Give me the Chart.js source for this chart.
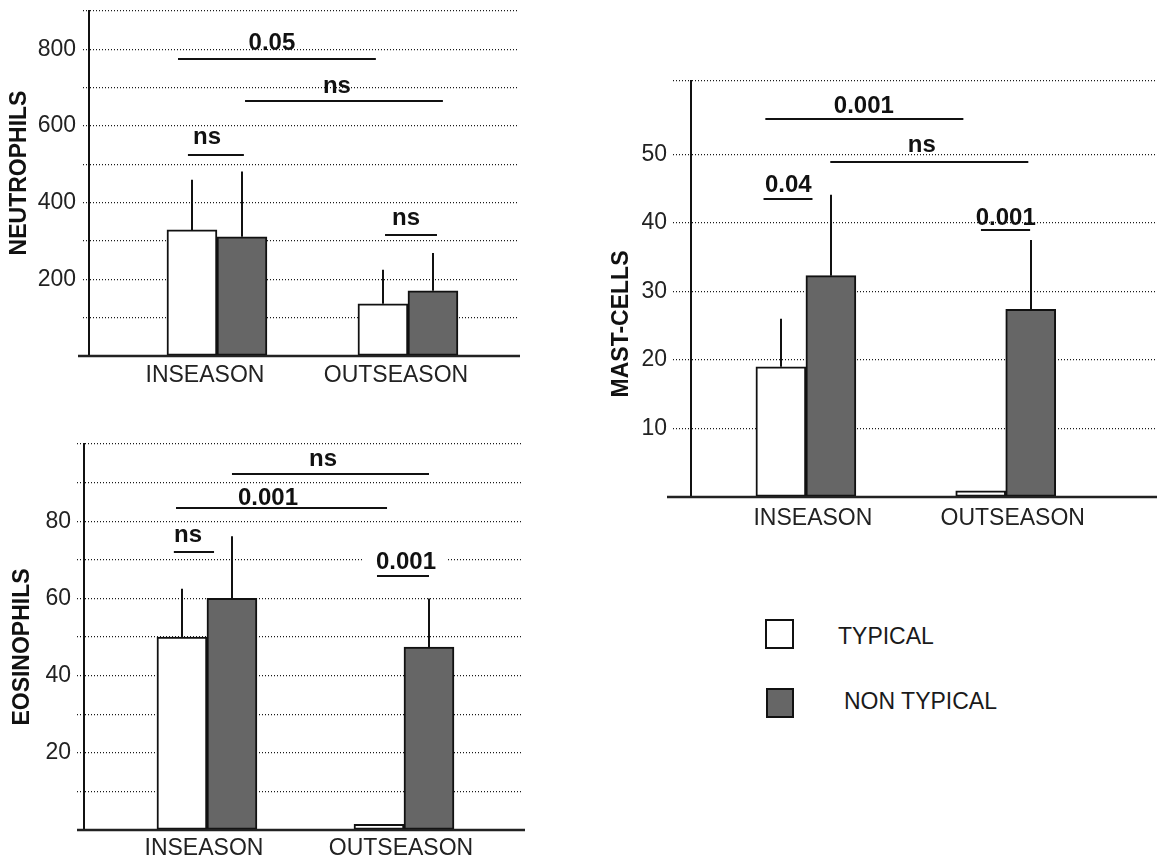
<!DOCTYPE html>
<html>
<head>
<meta charset="utf-8">
<script src="https://cdn.jsdelivr.net/npm/chart.js@4.4.1/dist/chart.umd.min.js"></script>
<style>
html,body{margin:0;padding:0;background:#fff;}
body{width:1157px;height:863px;position:relative;overflow:hidden;font-family:'Liberation Sans',Arial,sans-serif;}
canvas{position:absolute;}
.lg-box{position:absolute;box-sizing:border-box;border:2px solid #111;}
.lg-text{position:absolute;font-size:23px;color:#1a1a1a;line-height:23px;white-space:nowrap;}
</style>
</head>
<body>
<canvas id="neut" width="540" height="400" style="left:0;top:0"></canvas>
<canvas id="eos" width="540" height="433" style="left:0;top:430px"></canvas>
<canvas id="mast" width="582" height="500" style="left:575px;top:40px"></canvas>

<div class="lg-box" style="left:765px;top:619px;width:29px;height:30px;background:#ffffff"></div>
<div class="lg-text" id="lg0" style="left:838px;top:625px"></div>
<div class="lg-box" style="left:766px;top:688px;width:28px;height:30px;background:#666666"></div>
<div class="lg-text" id="lg1" style="left:844px;top:690px"></div>

<script>
// ---------- data ----------
const categories = ['INSEASON', 'OUTSEASON'];
const seriesNames = ['TYPICAL', 'NON TYPICAL'];

// Neutrophils
const neutTypical = [329, 136];
const neutTypicalErr = [131, 89];
const neutNonTypical = [311, 170];
const neutNonTypicalErr = [170, 99];
const neutTickLabels = [200, 400, 600, 800];
const neutSig = [
  {text: '0.05', x1: 0.796, x2: 1.832, y: 774, tx: 1.288, ty: 797},
  {text: 'ns',   x1: 1.147, x2: 2.183, y: 664, tx: 1.628, ty: 685},
  {text: 'ns',   x1: 0.848, x2: 1.141, y: 525, tx: 0.948, ty: 552},
  {text: 'ns',   x1: 1.880, x2: 2.152, y: 316, tx: 1.990, ty: 342}
];

// Eosinophils
const eosTypical = [50, 1.5];
const eosTypicalErr = [12.5, 0];
const eosNonTypical = [60, 47.4];
const eosNonTypicalErr = [16.1, 12.6];
const eosTickLabels = [20, 40, 60, 80];
const eosSig = [
  {text: 'ns',    x1: 1.127, x2: 2.127, y: 92.3, tx: 1.589, ty: 94.4},
  {text: '0.001', x1: 0.843, x2: 1.914, y: 83.5, tx: 1.310, ty: 84.1},
  {text: 'ns',    x1: 0.832, x2: 1.036, y: 72.1, tx: 0.904, ty: 74.6},
  {text: '0.001', x1: 1.863, x2: 2.127, y: 65.9, tx: 2.010, ty: 67.5, bg: true}
];

// Mast cells
const mastTypical = [19, 0.9];
const mastTypicalErr = [7, 0];
const mastNonTypical = [32.3, 27.4];
const mastNonTypicalErr = [11.8, 10.1];
const mastTickLabels = [10, 20, 30, 40, 50];
const mastSig = [
  {text: '0.001', x1: 0.797, x2: 1.788, y: 55.1, tx: 1.290, ty: 56.0},
  {text: 'ns',    x1: 1.122, x2: 2.113, y: 48.9, tx: 1.580, ty: 50.4},
  {text: '0.04',  x1: 0.788, x2: 1.033, y: 43.5, tx: 0.912, ty: 44.5},
  {text: '0.001', x1: 1.876, x2: 2.122, y: 39.0, tx: 2.000, ty: 39.7}
];

// ---------- drawing ----------
const FONT = "'Liberation Sans', Arial, sans-serif";
const INK = '#111111';

document.getElementById('lg0').textContent = seriesNames[0];
document.getElementById('lg1').textContent = seriesNames[1];

const extrasPlugin = {
  id: 'panelExtras',
  afterDraw(chart) {
    const o = chart.options.plugins.panelExtras;
    const ctx = chart.ctx;
    const xs = chart.scales.x, ys = chart.scales.y;
    const area = chart.chartArea;
    ctx.save();
    // error bars (upward only)
    ctx.strokeStyle = INK;
    ctx.lineWidth = 2;
    chart.data.datasets.forEach((ds, i) => {
      const meta = chart.getDatasetMeta(i);
      meta.data.forEach((el, j) => {
        const e = ds.errors[j];
        if (!e) return;
        const yTop = ys.getPixelForValue(ds.data[j].y + e);
        ctx.beginPath();
        ctx.moveTo(Math.round(el.x), el.y);
        ctx.lineTo(Math.round(el.x), yTop);
        ctx.stroke();
      });
    });
    // baseline
    const y0 = ys.getPixelForValue(0);
    ctx.lineWidth = 2.5;
    ctx.strokeStyle = '#222';
    ctx.beginPath();
    ctx.moveTo(area.left - o.baseLeft, y0);
    ctx.lineTo(area.right + 3, y0);
    ctx.stroke();
    // significance lines & labels
    ctx.font = 'bold 24px ' + FONT;
    ctx.textAlign = 'center';
    ctx.textBaseline = 'alphabetic';
    o.sig.forEach(s => {
      const tx = xs.getPixelForValue(s.tx), ty = ys.getPixelForValue(s.ty);
      if (s.bg) {
        const w = ctx.measureText(s.text).width + 24;
        ctx.fillStyle = '#fff';
        ctx.fillRect(tx - w / 2, ty - 19, w, 22);
      }
      ctx.strokeStyle = INK;
      ctx.lineWidth = 2;
      const ly = Math.round(ys.getPixelForValue(s.y));
      ctx.beginPath();
      ctx.moveTo(xs.getPixelForValue(s.x1), ly);
      ctx.lineTo(xs.getPixelForValue(s.x2), ly);
      ctx.stroke();
      ctx.fillStyle = INK;
      ctx.fillText(s.text, tx, ty);
    });
    // y title
    ctx.translate(o.titleX, o.titleY);
    ctx.rotate(-Math.PI / 2);
    ctx.font = 'bold 23px ' + FONT;
    ctx.fillStyle = INK;
    ctx.textBaseline = 'middle';
    ctx.fillText(o.title, 0, 0);
    ctx.restore();
  }
};

function makePanel(id, cfg) {
  const toPts = arr => arr.map((v, i) => ({x: i + 1, y: v}));
  return new Chart(document.getElementById(id), {
    type: 'bar',
    data: {
      datasets: [
        {label: seriesNames[0], data: toPts(cfg.typical), errors: cfg.typicalErr,
         backgroundColor: '#ffffff', borderColor: INK, borderWidth: 2, borderSkipped: false},
        {label: seriesNames[1], data: toPts(cfg.non), errors: cfg.nonErr,
         backgroundColor: '#666666', borderColor: INK, borderWidth: 2, borderSkipped: false}
      ]
    },
    options: {
      responsive: false,
      animation: false,
      devicePixelRatio: 1,
      datasets: {bar: {barThickness: 50, grouped: true}},
      layout: {padding: {left: 0, top: cfg.padTop, right: cfg.padRight, bottom: 0}},
      plugins: {
        legend: {display: false},
        tooltip: {enabled: false},
        panelExtras: {sig: cfg.sig, title: cfg.title, titleX: cfg.titleX, titleY: cfg.titleY, baseLeft: cfg.baseLeft}
      },
      scales: {
        x: {
          type: 'linear', min: cfg.xmin, max: cfg.xmax, offset: false,
          grid: {display: false, drawTicks: false},
          border: {display: false},
          afterBuildTicks: s => { s.ticks = categories.map((c, i) => ({value: i + 1})); },
          afterFit: s => { s.height = cfg.xHeight; s.paddingLeft = 0; s.paddingRight = 0; },
          ticks: {
            autoSkip: false, maxRotation: 0, minRotation: 0, padding: cfg.xPad,
            labelOffset: cfg.labelOffset, color: '#222',
            font: {family: FONT, size: 23},
            callback: (v, i) => categories[i]
          }
        },
        y: {
          min: 0, max: cfg.ymax,
          ticks: {
            stepSize: cfg.step, padding: cfg.tickPad, color: '#222',
            font: {family: FONT, size: 23},
            callback: v => cfg.tickLabels.includes(v) ? String(v) : ''
          },
          grid: {color: '#1a1a1a', lineWidth: 1.2, drawTicks: true, tickLength: cfg.tickLen,
                 tickColor: '#1a1a1a', tickWidth: 1.2, tickBorderDash: [1, 2]},
          border: {display: true, color: INK, width: 2, dash: [1, 2]},
          afterFit: s => { s.width = cfg.yWidth; s.paddingTop = 0; s.paddingBottom = 0; }
        }
      }
    },
    plugins: [extrasPlugin]
  });
}

makePanel('neut', {
  typical: neutTypical, typicalErr: neutTypicalErr, non: neutNonTypical, nonErr: neutNonTypicalErr,
  tickLabels: neutTickLabels, sig: neutSig, title: 'NEUTROPHILS',
  ymax: 900, step: 100, xmin: 0.330, xmax: 2.571,
  yWidth: 89, xHeight: 44, padTop: 11, padRight: 23,
  tickLen: 6, tickPad: 7, labelOffset: -12, xPad: 6, baseLeft: 11,
  titleX: 20, titleY: 173
});

makePanel('eos', {
  typical: eosTypical, typicalErr: eosTypicalErr, non: eosNonTypical, nonErr: eosNonTypicalErr,
  tickLabels: eosTickLabels, sig: eosSig, title: 'EOSINOPHILS',
  ymax: 100, step: 10, xmin: 0.376, xmax: 2.599,
  yWidth: 84, xHeight: 33, padTop: 14, padRight: 18,
  tickLen: 7, tickPad: 6, labelOffset: -3, xPad: 5, baseLeft: 7,
  titleX: 23, titleY: 217
});

makePanel('mast', {
  typical: mastTypical, typicalErr: mastTypicalErr, non: mastNonTypical, nonErr: mastNonTypicalErr,
  tickLabels: mastTickLabels, sig: mastSig, title: 'MAST-CELLS',
  ymax: 60.7, step: 10, xmin: 0.425, xmax: 2.752,
  yWidth: 116, xHeight: 43, padTop: 41, padRight: 1,
  tickLen: 18, tickPad: 6, labelOffset: 7, xPad: 8, baseLeft: 24,
  titleX: 47, titleY: 284
});
</script>
</body>
</html>
